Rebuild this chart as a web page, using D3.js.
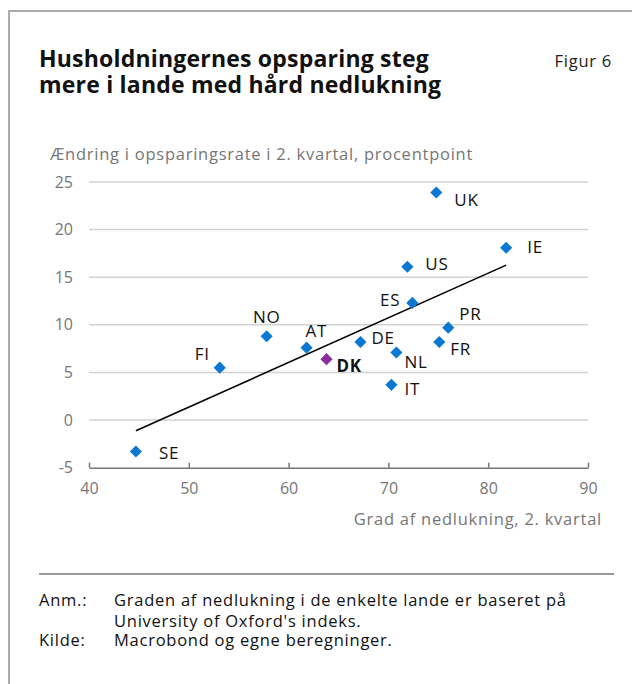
<!DOCTYPE html>
<html>
<head>
<meta charset="utf-8">
<script src="https://cdn.jsdelivr.net/npm/d3@7"></script>
<style>
body { margin: 0; background: #fff; }
svg { display: block; font-family: 'Open Sans', sans-serif; }
</style>
</head>
<body>
<div id="chart"></div>
<script>
// data
var countries = ['UK', 'IE', 'US', 'ES', 'PR', 'FR', 'DE', 'NL', 'IT', 'DK', 'AT', 'NO', 'FI', 'SE']
var lockdown = [74.8, 81.8, 71.9, 72.4, 76.0, 75.1, 67.2, 70.8, 70.3, 63.8, 61.8, 57.8, 53.1, 44.7]
var savings = [23.9, 18.1, 16.1, 12.3, 9.7, 8.2, 8.2, 7.1, 3.7, 6.4, 7.6, 8.8, 5.5, -3.3]
var xTicks = [40, 50, 60, 70, 80, 90]
var yTicks = [-5, 0, 5, 10, 15, 20, 25]
var highlightCountry = 'DK'

// label placement next to each marker: dx, dy, anchor
var labelPos = {
	UK: [18, 7, 'start'], IE: [21, -1, 'start'], US: [18, -3, 'start'],
	ES: [-12, -3, 'end'], PR: [11, -14, 'start'], FR: [11, 7, 'start'],
	DE: [11, -4, 'start'], NL: [8, 9, 'start'], IT: [13, 4, 'start'],
	DK: [10, 6, 'start'], AT: [-1, -17, 'start'], NO: [0, -20, 'middle'],
	FI: [-10, -14, 'end'], SE: [23, 1, 'start']
}

var width = 632
var height = 684
var blue = '#0a78d2'
var purple = '#8b2d9e'
var grey = '#767676'
var font = "'Open Sans', sans-serif"
var spacing = 0.75

var data = countries.map(function(c, i) {
	return { 'country': c, 'x': lockdown[i], 'y': savings[i] }
})

var svg = d3.select('#chart').append('svg')
	.attr('width', width)
	.attr('height', height)

// frame
svg.append('path')
	.attr('d', 'M9,' + height + 'V11H' + width)
	.attr('fill', 'none')
	.attr('stroke', '#ababab')
	.attr('stroke-width', 2)

svg.append('text')
	.attr('x', 39).attr('y', 66.5)
	.attr('font-size', 23).attr('font-weight', 700).attr('fill', '#111')
	.attr('letter-spacing', 0.2)
	.selectAll('tspan')
	.data(['Husholdningernes opsparing steg', 'mere i lande med hård nedlukning'])
	.enter().append('tspan')
	.attr('x', 39)
	.attr('dy', function(d, i) { return i ? 26 : 0 })
	.text(function(d) { return d })

svg.append('text')
	.attr('x', 612).attr('y', 66.5)
	.attr('text-anchor', 'end')
	.attr('font-size', 16.5).attr('fill', '#222')
	.attr('letter-spacing', spacing)
	.text('Figur 6')

var x = d3.scaleLinear().domain([40, 90]).range([89, 588])
var y = d3.scaleLinear().domain([-5, 25]).range([467.7, 182])

// gridlines
svg.append('g')
	.selectAll('line')
	.data(yTicks.filter(function(d) { return d > -5 }))
	.enter().append('line')
	.attr('x1', x(40)).attr('x2', x(90))
	.attr('y1', function(d) { return y(d) })
	.attr('y2', function(d) { return y(d) })
	.attr('stroke', '#d2d2d2')
	.attr('stroke-width', 1.5)

// y axis labels
var yAxis = svg.append('g')
	.attr('transform', 'translate(' + x(40) + ',0)')
	.call(d3.axisLeft(y).tickValues(yTicks).tickSize(0).tickPadding(16).tickFormat(String))
yAxis.select('.domain').remove()
yAxis.selectAll('text').attr('font-size', 16).attr('fill', grey).attr('font-family', font)

// x axis
var xAxis = svg.append('g')
	.attr('transform', 'translate(0,' + y(-5) + ')')
	.call(d3.axisBottom(x).tickValues(xTicks).tickSizeInner(-5).tickSizeOuter(0).tickPadding(15))
xAxis.select('.domain').attr('stroke', grey).attr('stroke-width', 1.5)
xAxis.selectAll('.tick line').attr('stroke', grey).attr('stroke-width', 1.5)
xAxis.selectAll('text').attr('font-size', 16).attr('fill', grey).attr('font-family', font)

svg.append('text')
	.attr('x', 50).attr('y', 153)
	.attr('dominant-baseline', 'central')
	.attr('font-size', 16.5).attr('fill', grey)
	.attr('letter-spacing', spacing)
	.text('Ændring i opsparingsrate i 2. kvartal, procentpoint')

svg.append('text')
	.attr('x', 602).attr('y', 518.5)
	.attr('dominant-baseline', 'central')
	.attr('text-anchor', 'end')
	.attr('font-size', 16.5).attr('fill', grey)
	.attr('letter-spacing', spacing)
	.text('Grad af nedlukning, 2. kvartal')

// trend line (least squares over all countries)
var mx = d3.mean(data, function(d) { return d.x })
var my = d3.mean(data, function(d) { return d.y })
var slope = d3.sum(data, function(d) { return (d.x - mx) * (d.y - my) }) /
	d3.sum(data, function(d) { return (d.x - mx) * (d.x - mx) })
var ext = d3.extent(data, function(d) { return d.x })

svg.append('line')
	.attr('x1', x(ext[0])).attr('y1', y(my + slope * (ext[0] - mx)))
	.attr('x2', x(ext[1])).attr('y2', y(my + slope * (ext[1] - mx)))
	.attr('stroke', '#000')
	.attr('stroke-width', 1.6)

// markers
var diamond = d3.symbol().type(d3.symbolSquare).size(74)
svg.append('g')
	.selectAll('path')
	.data(data)
	.enter().append('path')
	.attr('d', diamond)
	.attr('transform', function(d) { return 'translate(' + x(d.x) + ',' + y(d.y) + ') rotate(45)' })
	.attr('fill', function(d) { return d.country == highlightCountry ? purple : blue })

svg.append('g')
	.selectAll('text')
	.data(data)
	.enter().append('text')
	.attr('x', function(d) { return x(d.x) + labelPos[d.country][0] })
	.attr('y', function(d) { return y(d.y) + labelPos[d.country][1] })
	.attr('text-anchor', function(d) { return labelPos[d.country][2] })
	.attr('dominant-baseline', 'central')
	.attr('font-size', 17)
	.attr('letter-spacing', spacing)
	.attr('font-weight', function(d) { return d.country == highlightCountry ? 700 : 400 })
	.attr('fill', '#111')
	.text(function(d) { return d.country })

// notes
svg.append('line')
	.attr('x1', 39).attr('x2', 614)
	.attr('y1', 574).attr('y2', 574)
	.attr('stroke', '#999')
	.attr('stroke-width', 2)

var notes = svg.append('g').attr('font-size', 16.5).attr('fill', '#111').attr('letter-spacing', spacing)
notes.append('text').attr('x', 39).attr('y', 606).text('Anm.:')
notes.append('text').attr('x', 114).attr('y', 606).text('Graden af nedlukning i de enkelte lande er baseret på')
notes.append('text').attr('x', 114).attr('y', 627).text('University of Oxford\'s indeks.')
notes.append('text').attr('x', 39).attr('y', 646).text('Kilde:')
notes.append('text').attr('x', 114).attr('y', 646).text('Macrobond og egne beregninger.')
</script>
</body>
</html>
